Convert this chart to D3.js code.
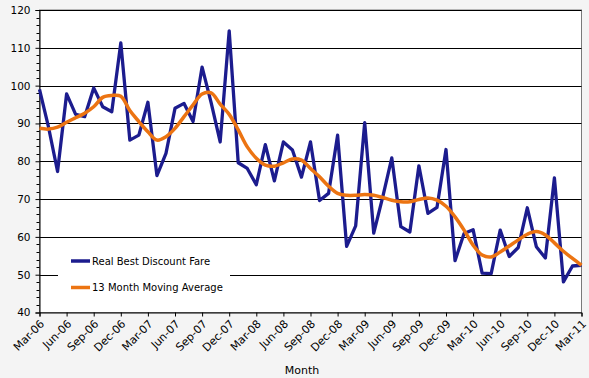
<!DOCTYPE html>
<html><head><meta charset="utf-8">
<script src="https://cdn.jsdelivr.net/npm/d3@7/dist/d3.min.js"></script>
<style>
html,body{margin:0;padding:0;background:#f4f4f4;}
svg{display:block;}
text{font-family:"DejaVu Sans",Verdana,sans-serif;fill:#000;}
</style></head>
<body>
<svg id="c" width="589" height="378"></svg>
<script>
const months = ["Mar-06","Apr-06","May-06","Jun-06","Jul-06","Aug-06","Sep-06","Oct-06","Nov-06","Dec-06",
"Jan-07","Feb-07","Mar-07","Apr-07","May-07","Jun-07","Jul-07","Aug-07","Sep-07","Oct-07","Nov-07","Dec-07",
"Jan-08","Feb-08","Mar-08","Apr-08","May-08","Jun-08","Jul-08","Aug-08","Sep-08","Oct-08","Nov-08","Dec-08",
"Jan-09","Feb-09","Mar-09","Apr-09","May-09","Jun-09","Jul-09","Aug-09","Sep-09","Oct-09","Nov-09","Dec-09",
"Jan-10","Feb-10","Mar-10","Apr-10","May-10","Jun-10","Jul-10","Aug-10","Sep-10","Oct-10","Nov-10","Dec-10",
"Jan-11","Feb-11","Mar-11"];
const fare = [99,89,77.3,97.8,92.4,91.8,99.4,94.4,93.1,111.3,
85.6,86.9,95.6,76.2,82.1,94,95.3,90.5,104.9,95.5,85.1,114.5,
79.6,78.1,73.8,84.4,74.8,85.1,83,75.8,85.1,69.6,71.5,86.9,
57.5,62.9,90.2,61,70.6,80.9,62.7,61.3,78.8,66.2,67.8,83.1,
53.7,60.9,61.9,50.4,50.3,61.8,54.8,57.2,67.7,57.4,54.4,75.6,
48.1,52.3,52.5];
const movingAvg = [88.7,88.5,89,90.3,91.5,92.7,94.4,96.9,97.4,97.2,
93.4,90.5,87.8,85.6,86.5,88.7,91.8,94.9,97.8,98.1,95.1,92.4,
88.3,83.8,80.8,79,78.7,79.6,80.6,80.3,78.1,75.9,73.4,71.5,
71,71,71.2,71,70.4,69.7,69.3,69.3,69.9,70.3,69.7,68.1,
65.3,61.8,57.8,55.2,54.7,56,57.6,59.2,60.7,61.4,60.5,58.4,
56.2,54.3,52.5];
const yTicks = [40,50,60,70,80,90,100,110,120];
const xTickLabels = months.filter((m,i)=>i%3===0);
const seriesNames = ["Real Best Discount Fare","13 Month Moving Average"];
const seriesColors = ["#1c1c8e","#ec7412"];
const axisTitle = "Month";

const svg = d3.select("#c");
const L=39.5, R=581.5, T=10, B=312.5;
const x = d3.scalePoint().domain(months).range([L,R]);
const y = d3.scaleLinear().domain([40,120]).range([B,T]);

// plot area
svg.append("rect").attr("x",L).attr("y",T).attr("width",R-L).attr("height",B-T)
  .attr("fill","#fff").attr("stroke","#7a7a7a").attr("stroke-width",1);

// gridlines
svg.append("g").selectAll("line").data(yTicks.filter(v=>v>40)).join("line")
  .attr("x1",L).attr("x2",R).attr("y1",d=>Math.round(y(d))+0.5).attr("y2",d=>Math.round(y(d))+0.5)
  .attr("stroke","#000").attr("stroke-width",1);

// y axis
const yAxis = d3.axisLeft(y).tickValues(yTicks).tickSize(4).tickPadding(5).tickFormat(d3.format("d"));
const gy = svg.append("g").attr("transform",`translate(${L},0)`).call(yAxis);
gy.select(".domain").attr("stroke","#000");
gy.selectAll("text").style("font-size","10.5px").style("font-family","DejaVu Sans");
// minor ticks
const minor = d3.range(40,121,2).filter(v=>v%10!==0);
svg.append("g").selectAll("line").data(minor).join("line")
  .attr("x1",L-3).attr("x2",L).attr("y1",d=>Math.round(y(d))+0.5).attr("y2",d=>Math.round(y(d))+0.5)
  .attr("stroke","#000");

// x axis
const xAxis = d3.axisBottom(x).tickValues(xTickLabels).tickSize(4).tickPadding(3);
const gx = svg.append("g").attr("transform",`translate(0,${B})`).call(xAxis);
gx.select(".domain").attr("stroke","#000");
gx.selectAll("text").style("font-size","11px").style("font-family","DejaVu Sans")
  .attr("text-anchor","end").attr("dy","0").attr("y",0)
  .attr("transform","translate(5,12) rotate(-45)");

svg.append("text").attr("x",302).attr("y",374).attr("text-anchor","middle")
  .style("font-size","11px").text(axisTitle);

// legend box
svg.append("rect").attr("x",58).attr("y",246).attr("width",172).attr("height",56).attr("fill","#fff");

// lines
svg.append("path").datum(fare).attr("fill","none").attr("stroke",seriesColors[0])
  .attr("stroke-width",3.3).attr("stroke-linejoin","round")
  .attr("d",d3.line().x((d,i)=>x(months[i])).y(d=>y(d)));
svg.append("path").datum(movingAvg).attr("fill","none").attr("stroke",seriesColors[1])
  .attr("stroke-width",3.5).attr("stroke-linejoin","round")
  .attr("d",d3.line().x((d,i)=>x(months[i])).y(d=>y(d)).curve(d3.curveCatmullRom));

// legend
const lg = svg.append("g");
seriesNames.forEach((n,i)=>{
  const yy = 261 + i*26.5;
  lg.append("line").attr("x1",71).attr("x2",90).attr("y1",yy).attr("y2",yy)
    .attr("stroke",seriesColors[i]).attr("stroke-width",3.5);
  lg.append("text").attr("x",92).attr("y",yy+3.5).style("font-size","10px").text(n);
});
</script>
</body></html>
